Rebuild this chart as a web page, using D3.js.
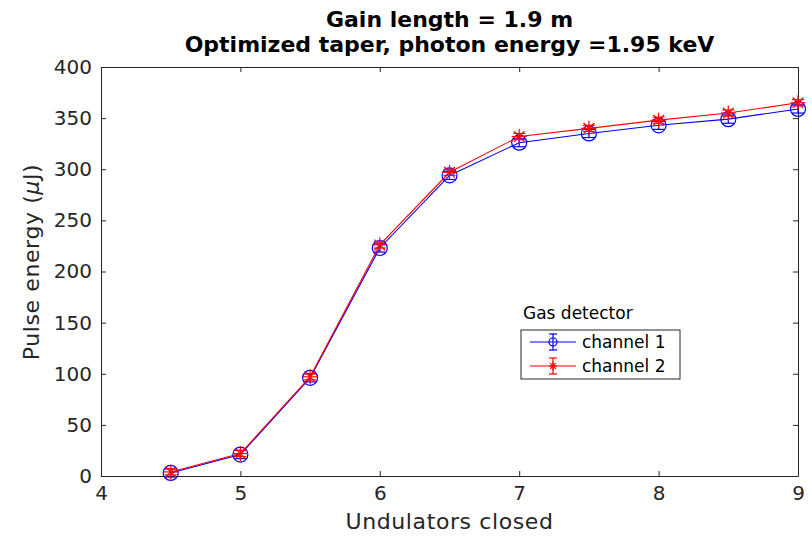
<!DOCTYPE html>
<html>
<head>
<meta charset="utf-8">
<script src="https://cdn.jsdelivr.net/npm/d3@7"></script>
<style>
body { margin: 0; background: #fff; }
text { font-family: "DejaVu Sans", "Liberation Sans", sans-serif; }
</style>
</head>
<body>
<svg id="svg_chart" width="812" height="538"></svg>
<script>
// undulators closed
var undulators = [4.5, 5, 5.5, 6, 6.5, 7, 7.5, 8, 8.5, 9];
// gas detector channel 1 / channel 2 (uJ)
var ch1_energy = [3, 21, 96, 223, 294, 326, 335, 343, 349, 359];
var ch1_err = [4, 4, 4, 4, 4, 4, 4, 4, 4, 4];
var ch2_energy = [4, 22, 97, 226, 297, 332, 340, 348, 355, 365];
var ch2_err = [3, 3, 3, 3, 3, 3, 3, 3, 3, 3];
var x_ticks = [4, 5, 6, 7, 8, 9];
var y_ticks = [0, 50, 100, 150, 200, 250, 300, 350, 400];

var svg = d3.select("svg#svg_chart");
var margin = {top: 67, right: 14, bottom: 62, left: 101};
var width = +svg.attr("width") - margin.left - margin.right;
var height = +svg.attr("height") - margin.top - margin.bottom;

var x = d3.scaleLinear().domain([4, 9]).range([0, width]);
var y = d3.scaleLinear().domain([0, 400]).range([height, 0]);

var g = svg.append("g")
	.attr("transform", "translate(" + margin.left + "," + margin.top + ")");

var axisColor = "#262626";

// axes (box on, ticks inside)
var styleAxis = function(sel) {
	sel.select(".domain").attr("stroke", axisColor);
	sel.selectAll(".tick line").attr("stroke", axisColor);
	sel.selectAll(".tick text").attr("fill", axisColor)
		.style("font-family", "'DejaVu Sans', sans-serif").style("font-size", "20px");
};

g.append("g")
	.attr("transform", "translate(0," + height + ")")
	.call(d3.axisBottom(x).tickValues(x_ticks).tickFormat(d3.format("d"))
		.tickSizeInner(-5).tickSizeOuter(0).tickPadding(10))
	.call(styleAxis);
g.append("g")
	.call(d3.axisTop(x).tickValues(x_ticks).tickSizeInner(-5).tickSizeOuter(0).tickFormat(""))
	.call(styleAxis);
g.append("g")
	.call(d3.axisLeft(y).tickValues(y_ticks).tickSizeInner(-5).tickSizeOuter(0).tickPadding(9))
	.call(styleAxis);
g.append("g")
	.attr("transform", "translate(" + width + ",0)")
	.call(d3.axisRight(y).tickValues(y_ticks).tickSizeInner(-5).tickSizeOuter(0).tickFormat(""))
	.call(styleAxis);

// titles
svg.append("text")
	.attr("x", margin.left + width / 2).attr("y", 27)
	.attr("text-anchor", "middle").attr("font-weight", "bold")
	.style("font-size", "22px").attr("fill", "#000")
	.text("Gain length = 1.9 m");
svg.append("text")
	.attr("x", margin.left + width / 2).attr("y", 52)
	.attr("text-anchor", "middle").attr("font-weight", "bold")
	.style("font-size", "22px").attr("fill", "#000")
	.text("Optimized taper, photon energy =1.95 keV");

svg.append("text")
	.attr("x", margin.left + width / 2).attr("y", 529)
	.attr("text-anchor", "middle").style("font-size", "22px").style("letter-spacing", "0.6px")
	.attr("fill", axisColor)
	.text("Undulators closed");

var ylab = svg.append("text")
	.attr("transform", "translate(39,262) rotate(-90)")
	.attr("text-anchor", "middle").style("font-size", "22px").style("letter-spacing", "0.6px")
	.attr("fill", axisColor);
ylab.append("tspan").text("Pulse energy (");
ylab.append("tspan").attr("font-style", "italic").text("\u03bc");
ylab.append("tspan").text("J)");

var line = d3.line()
	.x(function(d) { return x(d[0]); })
	.y(function(d) { return y(d[1]); });

var drawMarker = function(s, cx, cy, color, marker, r) {
	if (marker === "o") {
		s.append("circle").attr("cx", cx).attr("cy", cy).attr("r", r)
			.attr("fill", "none").attr("stroke", color).attr("stroke-width", 1.2);
	} else {
		[0, 45, 90, 135].forEach(function(a) {
			var dx = r * Math.cos(a * Math.PI / 180), dy = r * Math.sin(a * Math.PI / 180);
			s.append("line").attr("x1", cx - dx).attr("x2", cx + dx)
				.attr("y1", cy - dy).attr("y2", cy + dy)
				.attr("stroke", color).attr("stroke-width", 1.2);
		});
	}
};

var drawSeries = function(vals, errs, color, marker) {
	var data = undulators.map(function(u, i) { return [u, vals[i], errs[i]]; });
	var s = g.append("g");
	s.append("path").datum(data)
		.attr("fill", "none").attr("stroke", color).attr("stroke-width", 1.1)
		.attr("d", line);
	// error bars
	data.forEach(function(d) {
		var cx = x(d[0]);
		var y1 = y(d[1] - d[2]), y2 = y(d[1] + d[2]);
		s.append("line").attr("x1", cx).attr("x2", cx).attr("y1", y1).attr("y2", y2)
			.attr("stroke", color).attr("stroke-width", 1.2);
		[y1, y2].forEach(function(yy) {
			s.append("line").attr("x1", cx - 6).attr("x2", cx + 6).attr("y1", yy).attr("y2", yy)
				.attr("stroke", color).attr("stroke-width", 1.2);
		});
		drawMarker(s, cx, y(d[1]), color, marker, 7.5);
	});
};

drawSeries(ch1_energy, ch1_err, "#0000ff", "o");
drawSeries(ch2_energy, ch2_err, "#ff0000", "*");

// legend
var leg = svg.append("g");
leg.append("text").attr("x", 523).attr("y", 319)
	.style("font-size", "17px").attr("fill", "#000").text("Gas detector");
leg.append("rect").attr("x", 521).attr("y", 330).attr("width", 159).attr("height", 49)
	.attr("fill", "#fff").attr("stroke", axisColor).attr("stroke-width", 1);
var legItems = [["channel 1", "#0000ff", "o", 342], ["channel 2", "#ff0000", "*", 366]];
legItems.forEach(function(it) {
	var cy = it[3], cx = 553;
	leg.append("line").attr("x1", 530).attr("x2", 576).attr("y1", cy).attr("y2", cy)
		.attr("stroke", it[1]).attr("stroke-width", 1.2);
	leg.append("line").attr("x1", cx).attr("x2", cx).attr("y1", cy - 8).attr("y2", cy + 8)
		.attr("stroke", it[1]).attr("stroke-width", 1.2);
	[cy - 8, cy + 8].forEach(function(yy) {
		leg.append("line").attr("x1", cx - 4).attr("x2", cx + 4).attr("y1", yy).attr("y2", yy)
			.attr("stroke", it[1]).attr("stroke-width", 1.2);
	});
	drawMarker(leg, cx, cy, it[1], it[2], 4);
	leg.append("text").attr("x", 582).attr("y", cy + 6)
		.style("font-size", "17px").attr("fill", "#000").text(it[0]);
});
</script>
</body>
</html>
